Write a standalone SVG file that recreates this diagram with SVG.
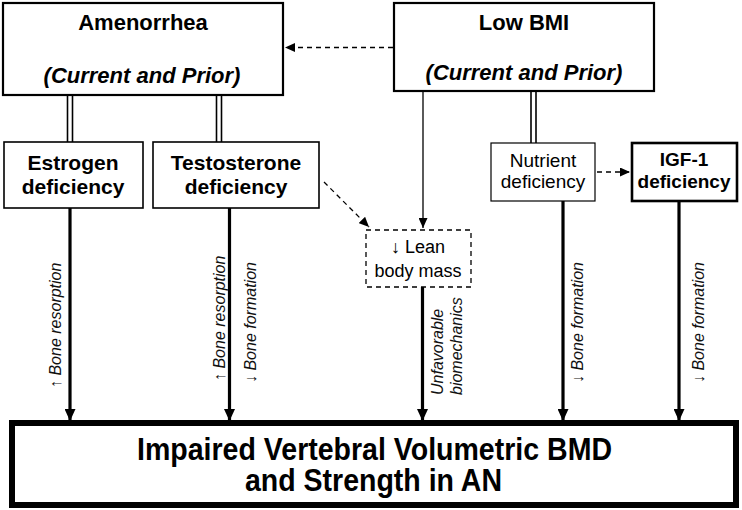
<svg xmlns="http://www.w3.org/2000/svg" width="742" height="510" viewBox="0 0 742 510">
<style>
.box{fill:#fff;stroke:#000}
.t{font-family:"Liberation Sans",Arial,sans-serif;fill:#000;text-anchor:middle}
.b{font-weight:bold}
.bi{font-weight:bold;font-style:italic}
.lab{font-family:"Liberation Sans",Arial,sans-serif;font-style:italic;font-size:16px;fill:#111}
.thick{stroke:#000;stroke-width:3.2;fill:none}
.thin{stroke:#000;stroke-width:1.3;fill:none}
.dash{stroke:#000;stroke-width:1.3;fill:none;stroke-dasharray:5 4}
.dbl{stroke:#000;stroke-width:1.6}
</style>
<defs>
<marker id="ahBig" markerUnits="userSpaceOnUse" viewBox="0 0 12 11" markerWidth="12" markerHeight="11" refX="12" refY="5.5" orient="auto"><path d="M0,0 L12,5.5 L0,11 z" fill="#000"/></marker>
<marker id="ahSm" markerUnits="userSpaceOnUse" viewBox="0 0 10 9" markerWidth="10" markerHeight="9" refX="10" refY="4.5" orient="auto"><path d="M0,0 L10,4.5 L0,9 z" fill="#000"/></marker>
</defs>

<g id="connectors">
  <!-- Low BMI -> Amenorrhea (dashed) -->
  <line class="dash" x1="393" y1="47.5" x2="285" y2="47.5" marker-end="url(#ahSm)"/>
  <!-- double lines -->
  <line class="dbl" x1="67.5" y1="96" x2="67.5" y2="142"/>
  <line class="dbl" x1="72.5" y1="96" x2="72.5" y2="142"/>
  <line class="dbl" x1="216.5" y1="96" x2="216.5" y2="142"/>
  <line class="dbl" x1="221.5" y1="96" x2="221.5" y2="142"/>
  <line class="dbl" x1="531" y1="92" x2="531" y2="143"/>
  <line class="dbl" x1="536" y1="92" x2="536" y2="143"/>
  <!-- Nutrient -> IGF-1 (dashed) -->
  <line class="dash" x1="597" y1="172" x2="630" y2="172" marker-end="url(#ahSm)"/>
  <!-- Low BMI -> Lean body mass -->
  <line class="thin" x1="423" y1="92" x2="423" y2="228" marker-end="url(#ahSm)"/>
  <!-- Testosterone -> Lean body mass (dashed) -->
  <line class="dash" x1="324" y1="182" x2="369" y2="227" marker-end="url(#ahSm)"/>
  <!-- thick arrows to outcome -->
  <line class="thick" x1="70" y1="208" x2="70" y2="421" marker-end="url(#ahBig)"/>
  <line class="thick" x1="229.5" y1="208" x2="229.5" y2="421" marker-end="url(#ahBig)"/>
  <line class="thick" x1="422.5" y1="287" x2="422.5" y2="421" marker-end="url(#ahBig)"/>
  <line class="thick" x1="563" y1="201" x2="563" y2="421" marker-end="url(#ahBig)"/>
  <line class="thick" x1="679" y1="201" x2="679" y2="421" marker-end="url(#ahBig)"/>
  <!-- connector labels -->
  <text class="lab" transform="translate(61,388) rotate(-90)">↑ Bone resorption</text>
  <text class="lab" transform="translate(225,381) rotate(-90)">↑ Bone resorption</text>
  <text class="lab" transform="translate(256,383) rotate(-90)">↓ Bone formation</text>
  <text class="lab" transform="translate(443,395) rotate(-90)">Unfavorable</text>
  <text class="lab" transform="translate(462,395) rotate(-90)">biomechanics</text>
  <text class="lab" transform="translate(583,383) rotate(-90)">↓ Bone formation</text>
  <text class="lab" transform="translate(704,383) rotate(-90)">↓ Bone formation</text>
</g>

<g id="amenorrhea">
  <rect class="box" x="3" y="3" width="280" height="92" stroke-width="2.2"/>
  <text class="t b" x="143" y="30" font-size="22">Amenorrhea</text>
  <text class="t bi" x="142" y="83" font-size="22">(Current and Prior)</text>
</g>

<g id="low-bmi">
  <rect class="box" x="394" y="3" width="260" height="88" stroke-width="2.2"/>
  <text class="t b" x="524" y="30" font-size="22">Low BMI</text>
  <text class="t bi" x="524" y="80" font-size="22">(Current and Prior)</text>
</g>

<g id="estrogen">
  <rect class="box" x="4" y="142" width="139" height="66" stroke-width="1.6"/>
  <text class="t b" x="73" y="170" font-size="21">Estrogen</text>
  <text class="t b" x="73" y="194" font-size="21">deficiency</text>
</g>

<g id="testosterone">
  <rect class="box" x="153" y="142" width="166" height="66" stroke-width="1.6"/>
  <text class="t b" x="236" y="170" font-size="21">Testosterone</text>
  <text class="t b" x="236" y="194" font-size="21">deficiency</text>
</g>

<g id="nutrient">
  <rect class="box" x="491" y="143" width="104" height="58" stroke-width="1.2" stroke="#222"/>
  <text class="t" x="543" y="167" font-size="19">Nutrient</text>
  <text class="t" x="543" y="188" font-size="19">deficiency</text>
</g>

<g id="igf1">
  <rect class="box" x="632" y="143" width="105" height="58" stroke-width="2.6"/>
  <text class="t b" x="684" y="166" font-size="19">IGF-1</text>
  <text class="t b" x="684" y="188" font-size="19">deficiency</text>
</g>

<g id="lean-body-mass">
  <rect class="box" x="366" y="230" width="105" height="57" stroke-width="1.3" stroke-dasharray="5 4"/>
  <text class="t" x="418" y="253" font-size="18">↓ Lean</text>
  <text class="t" x="418" y="277" font-size="18">body mass</text>
</g>

<g id="outcome">
  <rect class="box" x="12" y="423" width="724" height="82" stroke-width="6"/>
  <text class="t b" x="374.5" y="460" font-size="32" textLength="475" lengthAdjust="spacingAndGlyphs">Impaired Vertebral Volumetric BMD</text>
  <text class="t b" x="373.5" y="491" font-size="32" textLength="257" lengthAdjust="spacingAndGlyphs">and Strength in AN</text>
</g>
</svg>
